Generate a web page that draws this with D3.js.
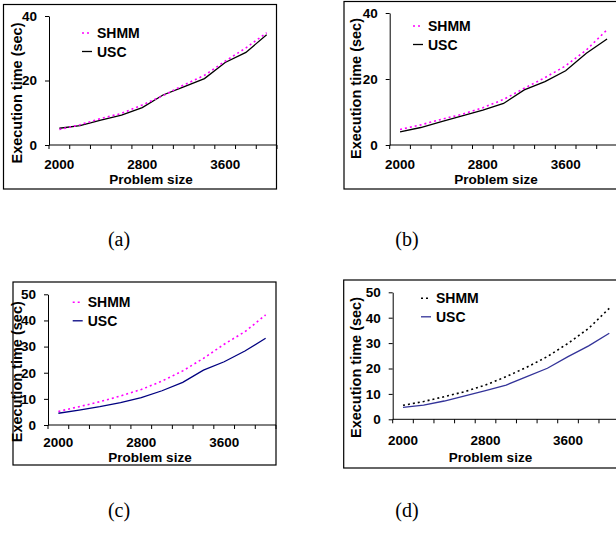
<!DOCTYPE html>
<html>
<head>
<meta charset="utf-8">
<script src="https://cdn.jsdelivr.net/npm/d3@7"></script>
<style>
  body { margin: 0; background: #fff; }
  svg { display: block; }
</style>
</head>
<body>
<div id="vis-container"></div>
<script>
// problem sizes on the category axis
const sizes = [2000, 2200, 2400, 2600, 2800, 3000, 3200, 3400, 3600, 3800, 4000];
const xLabels = [2000, 2800, 3600];
const yTicksAB = [0, 20, 40];
const yTicksCD = [0, 10, 20, 30, 40, 50];

// execution time (sec)
const shmmA = [4.8, 6.3, 8.2, 9.8, 12.4, 15.3, 18.6, 21.6, 26.0, 30.1, 34.8];
const uscA  = [5.2, 6.0, 7.7, 9.3, 11.6, 15.5, 18.0, 20.6, 25.6, 28.7, 34.2];
const shmmB = [4.7, 6.1, 7.8, 9.3, 11.3, 13.8, 17.2, 20.4, 24.0, 28.8, 34.9];
const uscB  = [4.0, 5.3, 7.1, 8.8, 10.6, 12.6, 16.7, 19.2, 22.5, 27.8, 32.1];
const shmmC = [5.2, 7.0, 8.9, 11.1, 13.6, 16.8, 20.7, 25.5, 30.9, 35.7, 42.1];
const uscC  = [4.5, 5.7, 7.0, 8.6, 10.5, 13.1, 16.3, 21.0, 24.2, 28.3, 33.2];
const shmmD = [5.5, 7.0, 8.9, 10.9, 13.5, 16.8, 20.5, 24.7, 29.9, 35.8, 43.7];
const uscD  = [4.7, 5.6, 7.2, 9.2, 11.3, 13.5, 16.8, 20.1, 24.7, 28.9, 33.9];

const width = 616;
const height = 533;
const font = "'Liberation Sans', Arial, sans-serif";

const svg = d3.select("#vis-container")
  .append("svg")
  .attr("width", width)
  .attr("height", height);

// layout of each sub figure (pixel positions)
const panels = [
  { shmm: shmmA, usc: uscA, yMax: 40, yTicks: yTicksAB, cap: "(a)",
    box: [3.5, 4.5, 273, 184.5], x0: 49, x1: 277, yb: 145, yt: 16,
    shmmColor: "#ff00ff", uscColor: "#000000",
    leg: [82, 33], yTitle: [22, 93], xTitle: [151, 184], labY: 168.5, capPos: [119, 246] },
  { shmm: shmmB, usc: uscB, yMax: 40, yTicks: yTicksAB, cap: "(b)",
    box: [344, 1.5, 290, 187.5], x0: 389.7, x1: 617.4, yb: 145, yt: 13,
    shmmColor: "#ff00ff", uscColor: "#000000",
    leg: [413, 26], yTitle: [361, 88.5], xTitle: [496, 184], labY: 168.5, capPos: [407, 246] },
  { shmm: shmmC, usc: uscC, yMax: 50, yTicks: yTicksCD, cap: "(c)",
    box: [13, 282, 263, 183], x0: 48, x1: 276, yb: 425, yt: 294.3,
    shmmColor: "#ff00ff", uscColor: "#000080",
    leg: [72.7, 302.3], yTitle: [22, 371.7], xTitle: [150, 461.5], labY: 446.5, capPos: [119, 517] },
  { shmm: shmmD, usc: uscD, yMax: 50, yTicks: yTicksCD, cap: "(d)",
    box: [343.7, 280, 290, 188], x0: 392.7, x1: 619.6, yb: 419.3, yt: 292.3,
    shmmColor: "#000000", uscColor: "#333399",
    leg: [421, 298.3], yTitle: [361, 367.5], xTitle: [490.5, 461.5], labY: 444.5, capPos: [407, 517] }
];

panels.forEach(function(p) {
  const g = svg.append("g");

  // frame around the sub figure
  g.append("rect")
    .attr("x", p.box[0]).attr("y", p.box[1])
    .attr("width", p.box[2]).attr("height", p.box[3])
    .attr("fill", "none").attr("stroke", "#000").attr("stroke-width", 1.2);

  const x = d3.scaleBand().domain(sizes).range([p.x0, p.x1]).padding(0);
  const y = d3.scaleLinear().domain([0, p.yMax]).range([p.yb, p.yt]);
  const cx = d => x(d) + x.bandwidth() / 2;

  // y-axis
  const yAxis = g.append("g")
    .attr("transform", `translate(${p.x0},0)`)
    .call(d3.axisLeft(y).tickValues(p.yTicks).tickSize(4).tickSizeOuter(0).tickPadding(8))
    .attr("font-size", "13.5px")
    .attr("font-family", font)
    .attr("font-weight", "bold");
  yAxis.selectAll("text").attr("fill", "#000");

  // x-axis line with ticks between categories (excel style)
  g.append("line")
    .attr("x1", p.x0).attr("x2", p.x1)
    .attr("y1", p.yb).attr("y2", p.yb)
    .attr("stroke", "#000");
  g.selectAll(".xtick")
    .data(sizes.concat(["end"]))
    .enter()
    .append("line")
    .attr("x1", d => d === "end" ? p.x1 : x(d))
    .attr("x2", d => d === "end" ? p.x1 : x(d))
    .attr("y1", p.yb).attr("y2", p.yb + 4)
    .attr("stroke", "#000");
  g.selectAll(".xlab")
    .data(xLabels)
    .enter()
    .append("text")
    .attr("x", d => cx(d))
    .attr("y", p.labY)
    .attr("text-anchor", "middle")
    .attr("font-family", font).attr("font-weight", "bold").attr("font-size", "13.5px")
    .text(d => d);

  // axis titles
  g.append("text")
    .attr("x", p.xTitle[0]).attr("y", p.xTitle[1])
    .attr("text-anchor", "middle")
    .attr("font-family", font).attr("font-weight", "bold").attr("font-size", "13.5px")
    .text("Problem size");
  g.append("text")
    .attr("transform", `translate(${p.yTitle[0]},${p.yTitle[1]}) rotate(-90)`)
    .attr("text-anchor", "middle")
    .attr("font-family", font).attr("font-weight", "bold").attr("font-size", "14.5px")
    .text("Execution time (sec)");

  // series lines
  const line = d3.line()
    .x((d, i) => cx(sizes[i]))
    .y(d => y(d));

  g.append("path")
    .datum(p.usc)
    .attr("fill", "none")
    .attr("stroke", p.uscColor)
    .attr("stroke-width", 1.3)
    .attr("d", line);

  g.append("path")
    .datum(p.shmm)
    .attr("fill", "none")
    .attr("stroke", p.shmmColor)
    .attr("stroke-width", 1.6)
    .attr("stroke-dasharray", "2,3")
    .attr("d", line);

  // legend
  const lx = p.leg[0], ly = p.leg[1];
  const legend = [
    { name: "SHMM", color: p.shmmColor, dash: "2,3", w: 1.6, dy: 0 },
    { name: "USC", color: p.uscColor, dash: null, w: 1.3, dy: 18.5 }
  ];
  legend.forEach(function(l) {
    g.append("line")
      .attr("x1", lx).attr("x2", lx + 10)
      .attr("y1", ly + l.dy).attr("y2", ly + l.dy)
      .attr("stroke", l.color)
      .attr("stroke-width", l.w)
      .attr("stroke-dasharray", l.dash);
    g.append("text")
      .attr("x", lx + 15)
      .attr("y", ly + l.dy + 5)
      .attr("font-family", font).attr("font-weight", "bold").attr("font-size", "14px")
      .text(l.name);
  });

  // caption under the sub figure
  g.append("text")
    .attr("x", p.capPos[0]).attr("y", p.capPos[1])
    .attr("text-anchor", "middle")
    .attr("font-family", "'Liberation Serif', 'Times New Roman', serif")
    .attr("font-size", "20px")
    .text(p.cap);
});
</script>
</body>
</html>
